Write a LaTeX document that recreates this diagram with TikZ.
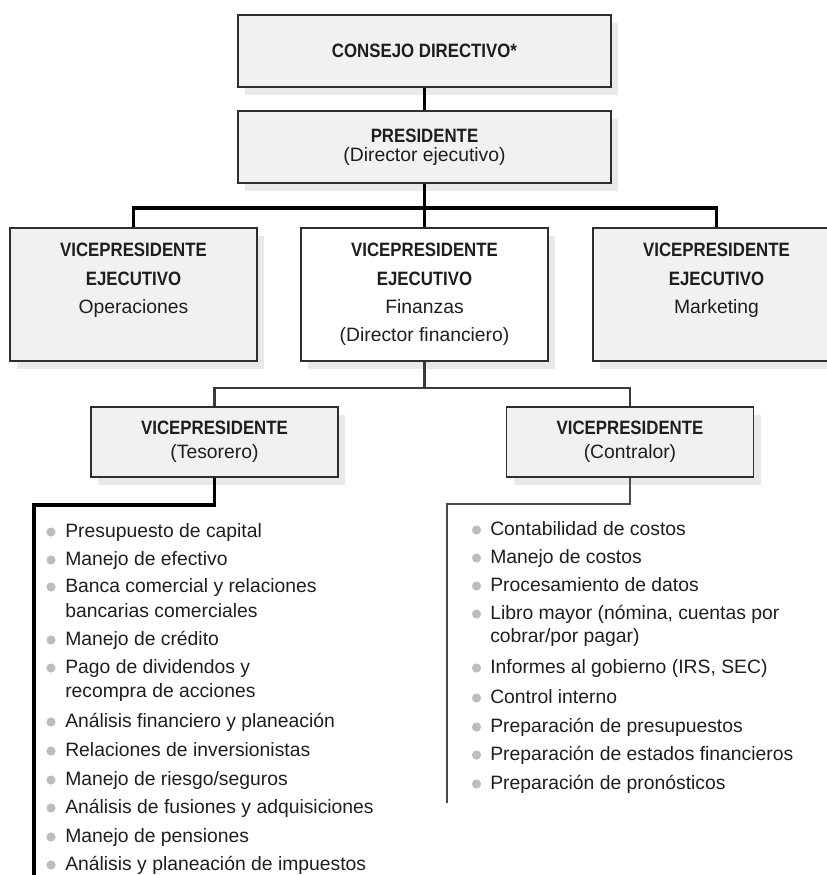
\documentclass[tikz,border=0pt]{standalone}
\usepackage{fontspec}
\setmainfont{Liberation Sans}
\newfontfamily\headfont[FakeStretch=0.87]{Liberation Sans}
\usetikzlibrary{shadows}
\definecolor{boxgray}{HTML}{F1F1F1}
\definecolor{shadegray}{HTML}{E9E9E9}
\definecolor{edgegray}{HTML}{2E2E2E}
\definecolor{bulgray}{HTML}{BDBDBD}
\definecolor{inkgray}{HTML}{1E1E1E}
\definecolor{rulegray}{HTML}{4A4A4A}
\definecolor{busgray}{HTML}{3A3A3A}
\newcommand{\pxu}{0.75pt}
\newcommand{\hd}[1]{{\headfont\bfseries #1}}
\tikzset{
  orgbox/.style={draw=edgegray, line width=1.1pt, fill=boxgray, inner sep=0pt,
    align=center, text=inkgray, font=\fontsize{14.5}{17.4}\selectfont,
    drop shadow={shadow xshift=7*\pxu, shadow yshift=-8*\pxu, fill=shadegray, opacity=1}},
  toprole/.style={orgbox, minimum width=373*\pxu, minimum height=72*\pxu},
  vprole/.style={orgbox, minimum width=247*\pxu, minimum height=133*\pxu},
  subrole/.style={orgbox, minimum width=247*\pxu, minimum height=70*\pxu},
  duty/.style={anchor=base west, inner sep=0pt, text=inkgray,
    font=\fontsize{14.5}{17.4}\selectfont},
  link/.style={line width=2.3pt, black},
  sublink/.style={line width=1.8pt, busgray},
  conlink/.style={line width=2.2pt, rulegray}
}
\begin{document}
\begin{tikzpicture}[x=0.75pt, y=-0.75pt]
  \useasboundingbox (0,0) rectangle (826,875);
  % boxes
  \node[toprole] (consejo) at (424.5,51) {\hd{CONSEJO DIRECTIVO*}};
  \node[toprole] (presidente) at (424.5,147) {\hd{PRESIDENTE}\\[-3.2pt](Director ejecutivo)};
  \node[vprole] (vpop) at (133.5,294.5)
    {\hd{VICEPRESIDENTE}\\[3.8pt]\hd{EJECUTIVO}\\[3.8pt]Operaciones\\[3.8pt]\phantom{(}};
  \node[vprole, fill=white] (vpfin) at (424.5,294.5)
    {\hd{VICEPRESIDENTE}\\[3.8pt]\hd{EJECUTIVO}\\[3.8pt]Finanzas\\[3.8pt](Director financiero)};
  \node[vprole] (vpmkt) at (716.5,294.5)
    {\hd{VICEPRESIDENTE}\\[3.8pt]\hd{EJECUTIVO}\\[3.8pt]Marketing\\[3.8pt]\phantom{(}};
  \node[subrole] (tesorero) at (214.5,442) {\hd{VICEPRESIDENTE}\\[0.9pt](Tesorero)};
  \node[subrole] (contralor) at (630,442) {\hd{VICEPRESIDENTE}\\[0.9pt](Contralor)};
  % connectors
  \coordinate (bus1) at (424.5,208);
  \coordinate (bus2) at (424.5,388);
  \draw[link] (consejo) -- (presidente);
  \draw[link] (presidente) -- (vpfin);
  \draw[link] (vpop.north) |- (bus1) -| (vpmkt.north);
  \draw[sublink] (vpfin.south) -- (bus2);
  \draw[sublink] (tesorero.north) |- (bus2) -| (contralor.north);
  \coordinate (tesbend) at (34,505);
  \coordinate (tesfoot) at (34,880);
  \coordinate (conbend) at (447,504);
  \coordinate (confoot) at (447,803);
  \draw[link] (tesorero.south) |- (tesbend) -- (tesfoot);
  \draw[conlink] (contralor.south) |- (conbend) -- (confoot);
  % duties of the treasurer
  \foreach \n/\y/\hasbul/\txt in {
      1/537/1/{Presupuesto de capital},
      2/565/1/{Manejo de efectivo},
      3/592/1/{Banca comercial y relaciones},
      4/617/0/{bancarias comerciales},
      5/645/1/{Manejo de crédito},
      6/673/1/{Pago de dividendos y},
      7/697/0/{recompra de acciones},
      8/727/1/{Análisis financiero y planeación},
      9/756/1/{Relaciones de inversionistas},
      10/785/1/{Manejo de riesgo/seguros},
      11/813/1/{Análisis de fusiones y adquisiciones},
      12/842/1/{Manejo de pensiones},
      13/870/1/{Análisis y planeación de impuestos}} {
    \node[duty] (tes\n) at (65,\y) {\txt};
    \ifnum\hasbul=1 \fill[bulgray] ([shift={(-14,-5)}]tes\n.base west) circle (4.6*\pxu); \fi
  }
  % duties of the controller
  \foreach \n/\y/\hasbul/\txt in {
      1/535/1/{Contabilidad de costos},
      2/563/1/{Manejo de costos},
      3/591/1/{Procesamiento de datos},
      4/619/1/{Libro mayor (nómina, cuentas por},
      5/642/0/{cobrar/por pagar)},
      6/673/1/{Informes al gobierno (IRS, SEC)},
      7/703/1/{Control interno},
      8/732/1/{Preparación de presupuestos},
      9/760/1/{Preparación de estados financieros},
      10/789/1/{Preparación de pronósticos}} {
    \node[duty] (con\n) at (490,\y) {\txt};
    \ifnum\hasbul=1 \fill[bulgray] ([shift={(-13.5,-5)}]con\n.base west) circle (4.6*\pxu); \fi
  }
\end{tikzpicture}
\end{document}
